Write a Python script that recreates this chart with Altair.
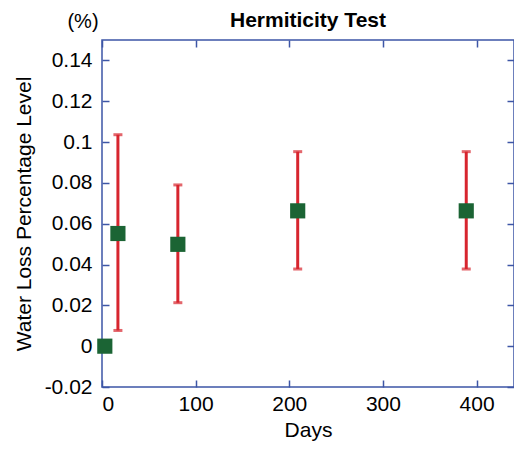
import altair as alt
import pandas as pd

days = [3, 17, 81, 209, 389]
loss = [0.0, 0.0552, 0.0499, 0.0663, 0.0663]
err_low = [None, 0.0077, 0.0213, 0.0378, 0.0378]
err_high = [None, 0.1036, 0.0790, 0.0953, 0.0953]

x_ticks = [0, 100, 200, 300, 400]
y_ticks = [-0.02, 0, 0.02, 0.04, 0.06, 0.08, 0.1, 0.12, 0.14]

df = pd.DataFrame({"days": days, "loss": loss, "lo": err_low, "hi": err_high})
eb = df.dropna()

AXIS_BLUE = "#3d56a6"
RED = "#d7252e"
GREEN = "#1b6434"
FONT = "Liberation Sans"

W, H = 412, 347

xscale = alt.Scale(domain=[0, 440], nice=False, zero=False)
yscale = alt.Scale(domain=[-0.02, 0.15], nice=False, zero=False)

lab_expr = "replace(format(datum.value, '~g'), '\u2212', '-')"

x_main = alt.Axis(orient="bottom", values=x_ticks, offset=-7, tickSize=7, domain=False,
                  grid=False, tickColor=AXIS_BLUE, tickWidth=1.5, labelPadding=6,
                  labelFont=FONT, labelFontSize=21, labelColor="#000",
                  title="Days", titleFont=FONT, titleFontSize=21, titleFontWeight="normal",
                  titleColor="#000", titlePadding=5)
y_main = alt.Axis(orient="left", values=y_ticks, offset=-7, tickSize=7, domain=False,
                  grid=False, tickColor=AXIS_BLUE, tickWidth=1.5, labelPadding=10,
                  labelFont=FONT, labelFontSize=21, labelColor="#000", labelExpr=lab_expr,
                  title="Water Loss Percentage Level", titleFont=FONT, titleFontSize=21,
                  titleFontWeight="normal", titleColor="#000", titlePadding=10)
x_top = alt.Axis(orient="top", values=x_ticks, offset=-7, tickSize=7, domain=False,
                 grid=False, tickColor=AXIS_BLUE, tickWidth=1.5, labels=False, title=None)
y_right = alt.Axis(orient="right", values=y_ticks, offset=-7, tickSize=7, domain=False,
                   grid=False, tickColor=AXIS_BLUE, tickWidth=1.5, labels=False, title=None)

rules = alt.Chart(eb).mark_rule(color=RED, strokeWidth=3).encode(
    x=alt.X("days:Q", scale=xscale, axis=x_top),
    y=alt.Y("lo:Q", scale=yscale, axis=y_right),
    y2="hi:Q",
)
caps_lo = alt.Chart(eb).mark_tick(color=RED, thickness=3, size=9, orient="horizontal").encode(
    x=alt.X("days:Q", scale=xscale, axis=None),
    y=alt.Y("lo:Q", scale=yscale, axis=None),
)
caps_hi = alt.Chart(eb).mark_tick(color=RED, thickness=3, size=9, orient="horizontal").encode(
    x=alt.X("days:Q", scale=xscale, axis=None),
    y=alt.Y("hi:Q", scale=yscale, axis=None),
)
points = alt.Chart(df).mark_square(color=GREEN, opacity=1, size=230).encode(
    x=alt.X("days:Q", scale=xscale, axis=x_main),
    y=alt.Y("loss:Q", scale=yscale, axis=y_main),
)
unit = alt.Chart(pd.DataFrame({"t": ["(%)"]})).mark_text(
    font=FONT, fontSize=20, color="#000", align="center", baseline="alphabetic"
).encode(text="t:N", x=alt.value(-19), y=alt.value(-12))

chart = alt.layer(rules, caps_lo, caps_hi, points, unit).resolve_axis(
    x="independent", y="independent"
).properties(
    width=W, height=H,
    background="white",
    title=alt.TitleParams("Hermiticity Test", font=FONT, fontSize=21, fontWeight="bold",
                          color="#000", anchor="middle", offset=-19),
    autosize=alt.AutoSizeParams(type="none"),
    padding={"left": 94, "top": 32, "right": 0, "bottom": 55},
).configure_view(stroke=AXIS_BLUE, strokeWidth=1.5)

chart.save("out.html", embed_options={"renderer": "svg", "actions": False})
